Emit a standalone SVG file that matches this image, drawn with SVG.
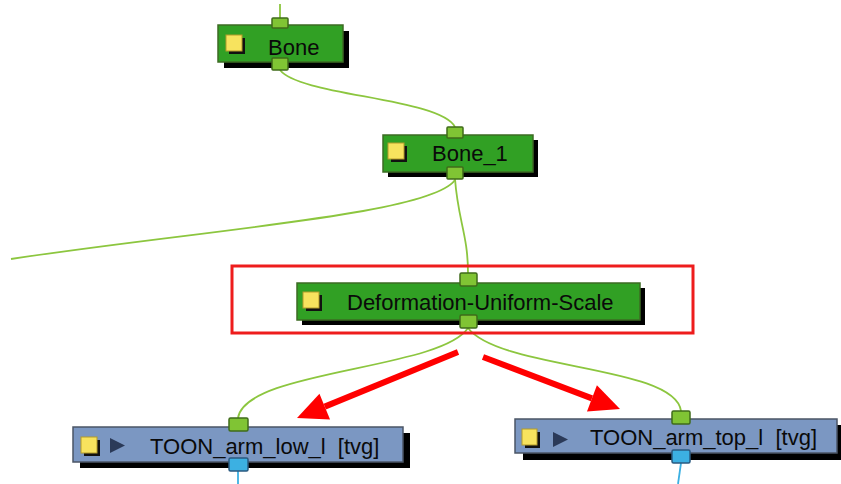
<svg xmlns="http://www.w3.org/2000/svg" width="841" height="484" viewBox="0 0 841 484">
<style>
.shadow{fill:#000}
.gnode{fill:#31a024;stroke:#3d6b23;stroke-width:1.5}
.bnode{fill:#7b97c2;stroke:#4b5566;stroke-width:1.5}
.gport{fill:#80c434;stroke:#3f6b1a;stroke-width:1.5}
.bport{fill:#3cb0e2;stroke:#2a5a80;stroke-width:1.5}
.ysq{fill:#f7e35e;stroke:#b39b2a;stroke-width:1}
.ysh{fill:#111}
.play{fill:#2b3a58}
.lbl{font-family:"Liberation Sans",Arial,sans-serif;font-size:22px;fill:#0a0a0a;white-space:pre}
.wire{fill:none;stroke:#8cc63f;stroke-width:1.8}
.bwire{fill:none;stroke:#3cb0e2;stroke-width:1.8}
.red{stroke:#ff0000;stroke-width:6;fill:none}
.redh{fill:#ff0000}
</style>
<rect width="841" height="484" fill="#ffffff"/>

<g id="connectors">
<path class="wire" d="M280,4 L280,18"/>
<path class="wire" d="M280,70 C300,96 440,98 455,127"/>
<path class="wire" d="M455,179 C458,220 468,235 468,273"/>
<path class="wire" d="M455,180 C430,215 200,230 11,259"/>
<path class="wire" d="M468,328 C440,370 245,370 238,418"/>
<path class="wire" d="M468,328 C500,370 675,365 681,411"/>
<path class="bwire" d="M238,471 L238,484"/>
<path class="bwire" d="M681,463 L678,484"/>
</g>

<g id="highlight">
<rect x="232" y="266" width="461" height="67" fill="none" stroke="#ee1c1c" stroke-width="3"/>
</g>

<g id="arrows">
<line class="red" x1="458" y1="352" x2="324.75" y2="406.6"/>
<polygon class="redh" points="297,418 330.05,419.6 319.45,393.7"/>
<line class="red" x1="483" y1="357" x2="591.95" y2="398.35"/>
<polygon class="redh" points="620,409 586.98,411.44 596.92,385.26"/>
</g>

<g id="bone">
<rect class="shadow" x="224" y="31" width="125" height="37"/>
<rect class="gnode" x="218" y="25" width="125" height="37"/>
<rect class="ysh" x="229" y="38" width="16" height="16"/>
<rect class="ysq" x="226" y="35" width="16" height="16"/>
<text class="lbl" x="268" y="55">Bone</text>
<rect class="gport" x="272" y="18" width="16" height="10" rx="1"/>
<rect class="gport" x="272" y="58" width="16" height="12" rx="1"/>
</g>

<g id="bone1">
<rect class="shadow" x="388" y="140" width="150" height="37"/>
<rect class="gnode" x="383" y="135" width="150" height="37"/>
<rect class="ysh" x="391" y="146" width="16" height="16"/>
<rect class="ysq" x="388" y="143" width="16" height="16"/>
<text class="lbl" x="432" y="161">Bone_1</text>
<rect class="gport" x="447" y="127" width="16" height="11" rx="1"/>
<rect class="gport" x="447" y="167" width="16" height="12" rx="1"/>
</g>

<g id="deformation">
<rect class="shadow" x="302" y="288" width="343" height="37"/>
<rect class="gnode" x="297" y="283" width="343" height="37"/>
<rect class="ysh" x="306" y="295" width="16" height="16"/>
<rect class="ysq" x="303" y="292" width="16" height="16"/>
<text class="lbl" x="347" y="310">Deformation-Uniform-Scale</text>
<rect class="gport" x="460" y="273" width="17" height="13" rx="1.5"/>
<rect class="gport" x="460" y="315" width="17" height="13" rx="1.5"/>
</g>

<g id="toon_low">
<rect class="shadow" x="80" y="433" width="330" height="35"/>
<rect class="bnode" x="73" y="427" width="330" height="35"/>
<rect class="ysh" x="84" y="440" width="16" height="16"/>
<rect class="ysq" x="81" y="437" width="16" height="16"/>
<polygon class="play" points="110,438 125,445.5 110,453"/>
<text class="lbl" x="150" y="454">TOON_arm_low_l  [tvg]</text>
<rect class="gport" x="229" y="418" width="19" height="13" rx="1.5"/>
<rect class="bport" x="229" y="458" width="19" height="13" rx="1.5"/>
</g>

<g id="toon_top">
<rect class="shadow" x="523" y="425" width="318" height="35"/>
<rect class="bnode" x="515" y="419" width="322" height="34"/>
<rect class="ysh" x="525" y="432" width="15" height="16"/>
<rect class="ysq" x="522" y="429" width="15" height="16"/>
<polygon class="play" points="553,432 568,439.5 553,447"/>
<text class="lbl" x="590" y="445">TOON_arm_top_l  [tvg]</text>
<rect class="gport" x="672" y="411" width="18" height="13" rx="1.5"/>
<rect class="bport" x="672" y="450" width="18" height="13" rx="1.5"/>
</g>
</svg>
